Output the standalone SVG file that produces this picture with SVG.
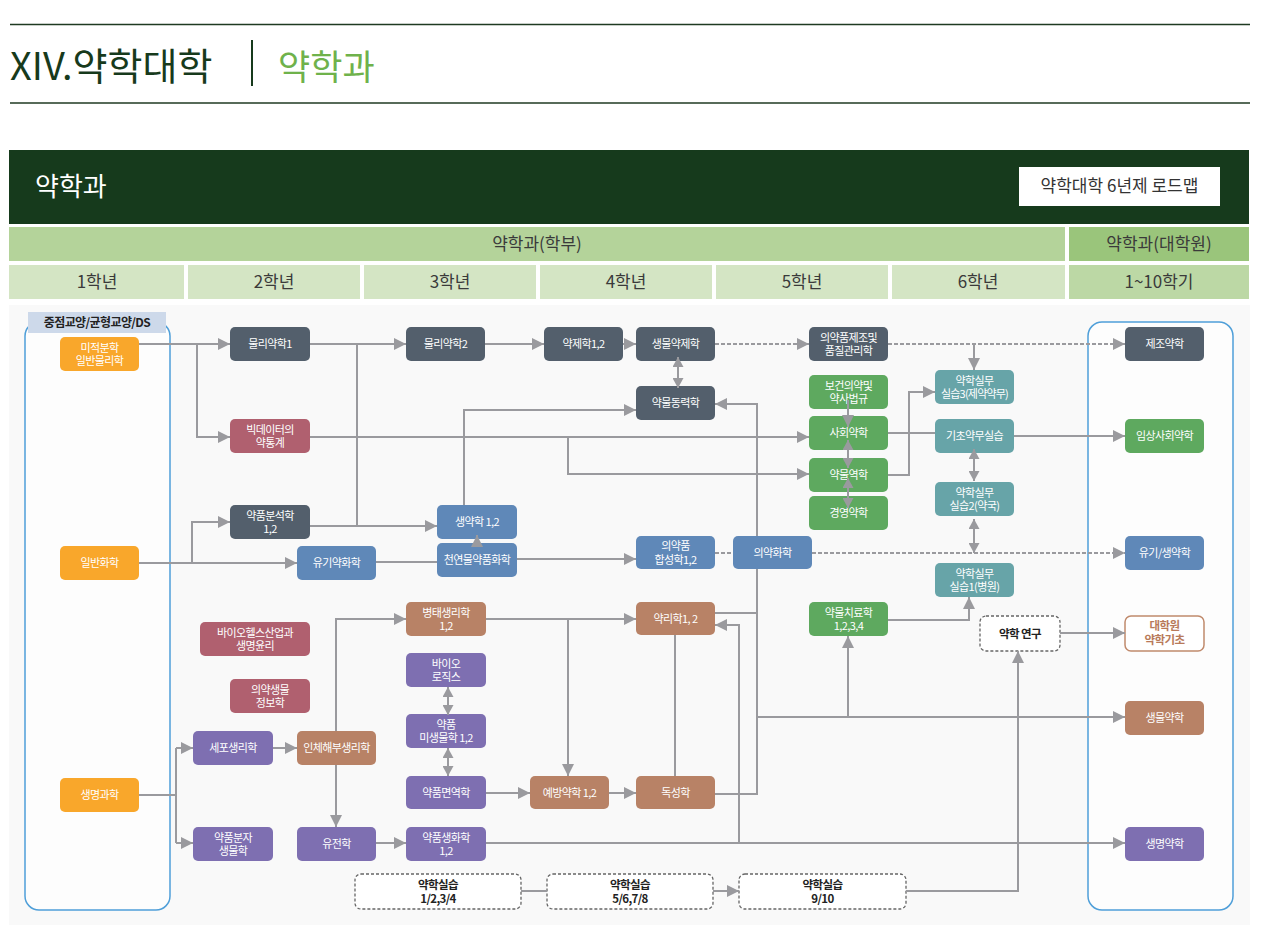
<svg xmlns="http://www.w3.org/2000/svg" width="1272" height="948" viewBox="0 0 1272 948">
<defs>
<style>
text{font-family:"Noto Sans CJK KR","Noto Sans",sans-serif;}
.n rect{rx:5;ry:5;}
.t{fill:#fff;font-size:11px;letter-spacing:-0.6px;text-anchor:middle;}
.slate{fill:#535f6c}.orange{fill:#f9a72b}.rose{fill:#b0606f}.blue{fill:#5f88b8}
.green{fill:#5ea95f}.teal{fill:#67a4a8}.brown{fill:#b88266}.purple{fill:#7e6fb1}
.dbox{fill:#fff;stroke:#666;stroke-width:1.3;stroke-dasharray:3 2;}
.dt{fill:#222;font-size:11.5px;font-weight:bold;letter-spacing:-0.6px;text-anchor:middle;}
.c path{fill:none;stroke:#9a9a9e;stroke-width:2;}
.a{marker-end:url(#ah);}
.d{marker-start:url(#ad);marker-end:url(#ad);}
.dash{stroke-dasharray:4 2;}
.hd{fill:#3a3a3a;font-size:17px;text-anchor:middle;}
</style>
<marker id="ah" markerUnits="userSpaceOnUse" markerWidth="12" markerHeight="12" refX="12" refY="6" orient="auto" viewBox="0 0 12 12"><path d="M0,0L12,6L0,12z" fill="#9a9a9e"/></marker>
<marker id="ad" markerUnits="userSpaceOnUse" markerWidth="10" markerHeight="11" refX="10" refY="5.5" orient="auto-start-reverse" viewBox="0 0 10 11"><path d="M0,0L10,5.5L0,11z" fill="#9a9a9e"/></marker>
</defs>
<rect width="1272" height="948" fill="#fff"/>
<g id="header">
<line x1="10" y1="24.5" x2="1250" y2="24.5" stroke="#1f3a22" stroke-width="1.5"/>
<text x="10" y="80" font-size="38" fill="#173a1c">XIV.약학대학</text>
<line x1="252" y1="40" x2="252" y2="86" stroke="#173a1c" stroke-width="2"/>
<text x="278" y="80" font-size="35" fill="#6fb24b">약학과</text>
<line x1="10" y1="103" x2="1250" y2="103" stroke="#1f3a22" stroke-width="1.5"/>
<rect x="9" y="150" width="1240" height="74" fill="#163a1c"/>
<text x="35" y="196" font-size="26" fill="#fff">약학과</text>
<rect x="1019" y="167" width="201" height="39" fill="#fff"/>
<text x="1119.5" y="192" font-size="17" fill="#333" text-anchor="middle">약학대학 6년제 로드맵</text>
<rect x="9" y="227" width="1056" height="34" fill="#b4d39a"/>
<rect x="1069" y="227" width="180" height="34" fill="#9ac57b"/>
<text class="hd" x="537" y="250">약학과(학부)</text>
<text class="hd" x="1159" y="250">약학과(대학원)</text>
<rect x="9" y="265" width="175" height="34" fill="#d4e5c4"/>
<rect x="188" y="265" width="172" height="34" fill="#d4e5c4"/>
<rect x="364" y="265" width="172" height="34" fill="#d4e5c4"/>
<rect x="540" y="265" width="172" height="34" fill="#d4e5c4"/>
<rect x="716" y="265" width="172" height="34" fill="#d4e5c4"/>
<rect x="892" y="265" width="173" height="34" fill="#d4e5c4"/>
<rect x="1069" y="265" width="180" height="34" fill="#bcd8a5"/>
<text class="hd" x="97" y="288">1학년</text>
<text class="hd" x="274" y="288">2학년</text>
<text class="hd" x="450" y="288">3학년</text>
<text class="hd" x="626" y="288">4학년</text>
<text class="hd" x="802" y="288">5학년</text>
<text class="hd" x="978" y="288">6학년</text>
<text class="hd" x="1159" y="288">1~10학기</text>
</g>
<g id="area">
<rect x="9" y="305" width="1241" height="620" fill="#f9f9f9"/>
<rect x="25" y="322" width="145" height="588" rx="14" fill="#fdfdfd" stroke="#4f9fd9" stroke-width="1.5"/>
<rect x="1088" y="322" width="145" height="588" rx="14" fill="#fdfdfd" stroke="#4f9fd9" stroke-width="1.5"/>
<rect x="28" y="312" width="138" height="21" fill="#cdd9ea"/>
<text x="97" y="327" font-size="12" font-weight="bold" fill="#222" text-anchor="middle" letter-spacing="-0.6">중점교양/균형교양/DS</text>
</g>
<g id="nodes">
<g id="n-calc" class="n"><rect class="orange" x="60" y="337" width="79" height="34"/><text class="t" x="99.5" y="351.5">미적분학<tspan x="99.5" dy="13.5">일반물리학</tspan></text></g>
<g id="n-genchem" class="n"><rect class="orange" x="60" y="546" width="79" height="34"/><text class="t" x="99.5" y="567">일반화학</text></g>
<g id="n-life" class="n"><rect class="orange" x="60" y="778" width="79" height="34"/><text class="t" x="99.5" y="799">생명과학</text></g>
<g id="n-phys1" class="n"><rect class="slate" x="230" y="327" width="80" height="34"/><text class="t" x="270" y="348">물리약학1</text></g>
<g id="n-bigdata" class="n"><rect class="rose" x="230" y="419" width="80" height="34"/><text class="t" x="270" y="433.5">빅데이터의<tspan x="270" dy="13.5">약통계</tspan></text></g>
<g id="n-anal" class="n"><rect class="slate" x="230" y="505" width="80" height="34"/><text class="t" x="270" y="519.5">약품분석학<tspan x="270" dy="13.5">1,2</tspan></text></g>
<g id="n-orgchem" class="n"><rect class="blue" x="297" y="546" width="79" height="34"/><text class="t" x="336.5" y="567">유기약화학</text></g>
<g id="n-bioethics" class="n"><rect class="rose" x="200" y="622" width="110" height="34"/><text class="t" x="255" y="636.5">바이오헬스산업과<tspan x="255" dy="13.5">생명윤리</tspan></text></g>
<g id="n-bioinfo" class="n"><rect class="rose" x="230" y="679" width="80" height="34"/><text class="t" x="270" y="693.5">의약생물<tspan x="270" dy="13.5">정보학</tspan></text></g>
<g id="n-cellphys" class="n"><rect class="purple" x="193" y="731" width="80" height="34"/><text class="t" x="233" y="752">세포생리학</text></g>
<g id="n-molbio" class="n"><rect class="purple" x="193" y="827" width="80" height="34"/><text class="t" x="233" y="841.5">약품분자<tspan x="233" dy="13.5">생물학</tspan></text></g>
<g id="n-anatomy" class="n"><rect class="brown" x="297" y="731" width="79" height="34"/><text class="t" x="336.5" y="752">인체해부생리학</text></g>
<g id="n-genetics" class="n"><rect class="purple" x="297" y="827" width="79" height="34"/><text class="t" x="336.5" y="848">유전학</text></g>
<g id="n-phys2" class="n"><rect class="slate" x="406" y="327" width="79" height="34"/><text class="t" x="445.5" y="348">물리약학2</text></g>
<g id="n-pharmacog" class="n"><rect class="blue" x="437" y="505" width="80" height="34"/><text class="t" x="477" y="526">생약학 1,2</text></g>
<g id="n-natprod" class="n"><rect class="blue" x="437" y="543" width="80" height="34"/><text class="t" x="477" y="564">천연물약품화학</text></g>
<g id="n-pathophys" class="n"><rect class="brown" x="406" y="602" width="80" height="34"/><text class="t" x="446" y="616.5">병태생리학<tspan x="446" dy="13.5">1,2</tspan></text></g>
<g id="n-biologics" class="n"><rect class="purple" x="406" y="653" width="80" height="34"/><text class="t" x="446" y="667.5">바이오<tspan x="446" dy="13.5">로직스</tspan></text></g>
<g id="n-micro" class="n"><rect class="purple" x="406" y="714" width="80" height="34"/><text class="t" x="446" y="728.5">약품<tspan x="446" dy="13.5">미생물학 1,2</tspan></text></g>
<g id="n-immuno" class="n"><rect class="purple" x="406" y="776" width="80" height="33"/><text class="t" x="446" y="797">약품면역학</text></g>
<g id="n-biochem" class="n"><rect class="purple" x="406" y="827" width="80" height="34"/><text class="t" x="446" y="841.5">약품생화학<tspan x="446" dy="13.5">1,2</tspan></text></g>
<g id="n-pharmaceutics" class="n"><rect class="slate" x="544" y="327" width="79" height="34"/><text class="t" x="583.5" y="348">약제학1,2</text></g>
<g id="n-prevent" class="n"><rect class="brown" x="530" y="776" width="79" height="33"/><text class="t" x="569.5" y="797">예방약학 1,2</text></g>
<g id="n-biopharm" class="n"><rect class="slate" x="636" y="327" width="79" height="34"/><text class="t" x="675.5" y="348">생물약제학</text></g>
<g id="n-pk" class="n"><rect class="slate" x="636" y="386" width="79" height="34"/><text class="t" x="675.5" y="407">약물동력학</text></g>
<g id="n-synth" class="n"><rect class="blue" x="636" y="536" width="79" height="33"/><text class="t" x="675.5" y="550">의약품<tspan x="675.5" dy="13.5">합성학1,2</tspan></text></g>
<g id="n-pharmacol" class="n"><rect class="brown" x="636" y="602" width="79" height="33"/><text class="t" x="675.5" y="622.5">약리학1, 2</text></g>
<g id="n-tox" class="n"><rect class="brown" x="636" y="776" width="79" height="33"/><text class="t" x="675.5" y="797">독성학</text></g>
<g id="n-medchem" class="n"><rect class="blue" x="733" y="536" width="79" height="33"/><text class="t" x="772.5" y="556.5">의약화학</text></g>
<g id="n-gmp" class="n"><rect class="slate" x="809" y="327" width="79" height="34"/><text class="t" x="848.5" y="341.5">의약품제조및<tspan x="848.5" dy="13.5">품질관리학</tspan></text></g>
<g id="n-law" class="n"><rect class="green" x="809" y="375" width="79" height="34"/><text class="t" x="848.5" y="389.5">보건의약및<tspan x="848.5" dy="13.5">약사법규</tspan></text></g>
<g id="n-social" class="n"><rect class="green" x="809" y="416" width="79" height="34"/><text class="t" x="848.5" y="437">사회약학</text></g>
<g id="n-epi" class="n"><rect class="green" x="809" y="458" width="79" height="34"/><text class="t" x="848.5" y="479">약물역학</text></g>
<g id="n-mgmt" class="n"><rect class="green" x="809" y="496" width="79" height="34"/><text class="t" x="848.5" y="517">경영약학</text></g>
<g id="n-therapy" class="n"><rect class="green" x="809" y="602" width="79" height="34"/><text class="t" x="848.5" y="616.5">약물치료학<tspan x="848.5" dy="13.5">1,2,3,4</tspan></text></g>
<g id="n-prac3" class="n"><rect class="teal" x="935" y="370" width="79" height="34"/><text class="t" x="974.5" y="384.5">약학실무<tspan x="974.5" dy="13.5" style="letter-spacing:-0.8px">실습3(제약약무)</tspan></text></g>
<g id="n-basic" class="n"><rect class="teal" x="935" y="419" width="79" height="34"/><text class="t" x="974.5" y="440">기초약무실습</text></g>
<g id="n-prac2" class="n"><rect class="teal" x="935" y="482" width="79" height="34"/><text class="t" x="974.5" y="496.5">약학실무<tspan x="974.5" dy="13.5">실습2(약국)</tspan></text></g>
<g id="n-prac1" class="n"><rect class="teal" x="935" y="563" width="79" height="34"/><text class="t" x="974.5" y="577.5">약학실무<tspan x="974.5" dy="13.5">실습1(병원)</tspan></text></g>
<g id="n-research"><rect class="dbox" x="980" y="616" width="80" height="35" rx="6"/><text class="dt" x="1020" y="638">약학 연구</text></g>
<g id="n-lab1"><rect class="dbox" x="355" y="874" width="166" height="35" rx="6"/><text class="dt" x="438" y="888.5">약학실습<tspan x="438" dy="14">1/2,3/4</tspan></text></g>
<g id="n-lab2"><rect class="dbox" x="547" y="874" width="166" height="35" rx="6"/><text class="dt" x="630" y="888.5">약학실습<tspan x="630" dy="14">5/6,7/8</tspan></text></g>
<g id="n-lab3"><rect class="dbox" x="739" y="874" width="167" height="35" rx="6"/><text class="dt" x="822.5" y="888.5">약학실습<tspan x="822.5" dy="14">9/10</tspan></text></g>
<g id="n-mfg" class="n"><rect class="slate" x="1125" y="327" width="79" height="34"/><text class="t" x="1164.5" y="348">제조약학</text></g>
<g id="n-clinsoc" class="n"><rect class="green" x="1125" y="419" width="79" height="34"/><text class="t" x="1164.5" y="440">임상사회약학</text></g>
<g id="n-orgpharm" class="n"><rect class="blue" x="1125" y="536" width="79" height="34"/><text class="t" x="1164.5" y="557">유기/생약학</text></g>
<g id="n-gradbase"><rect x="1125" y="616" width="79" height="35" rx="6" fill="#fff" stroke="#c08a6c" stroke-width="1.5"/><text x="1164.5" y="630" font-size="11.5" font-weight="bold" fill="#b87a5a" text-anchor="middle" letter-spacing="-0.6">대학원<tspan x="1164.5" dy="14">약학기초</tspan></text></g>
<g id="n-biopharmsci" class="n"><rect class="brown" x="1125" y="701" width="79" height="34"/><text class="t" x="1164.5" y="722">생물약학</text></g>
<g id="n-lifepharm" class="n"><rect class="purple" x="1125" y="827" width="79" height="34"/><text class="t" x="1164.5" y="848">생명약학</text></g>
</g>
<g id="connectors" class="c">
<path class="a" d="M139,344H230"/>
<path class="a" d="M197,344V437H230"/>
<path class="a" d="M310,344H406"/>
<path d="M357,344V526"/>
<path class="a" d="M310,526H437"/>
<path class="a" d="M485,344H544"/>
<path class="a" d="M623,344H636"/>
<path class="d" d="M678,357V388"/>
<path class="a dash" d="M715,344H809"/>
<path class="a dash" d="M888,344H1125"/>
<path class="a" d="M974,345V370"/>
<path class="a" d="M464,505V410H636"/>
<path class="a" d="M310,437H809"/>
<path class="a" d="M568,437V474H809"/>
<path class="a" d="M848,400V427"/>
<path class="d" d="M848,440V468"/>
<path class="d" d="M848,478V508"/>
<path d="M888,433H935"/>
<path class="a" d="M888,475H909V392H935"/>
<path class="a" d="M1014,436H1125"/>
<path class="d" d="M974,449V481"/>
<path class="d" d="M974,519V553"/>
<path class="a" d="M139,563H297"/>
<path class="a" d="M192,563V522H230"/>
<path d="M376,562H437"/>
<path class="a" d="M477,546V535"/>
<path class="a" d="M517,559H636"/>
<path class="dash" d="M715,553H733"/>
<path class="a dash" d="M812,553H1125"/>
<path class="a" d="M486,619H636"/>
<path class="a" d="M568,619V776"/>
<path class="a" d="M336,731V619H406"/>
<path class="a" d="M336,765V827"/>
<path class="a" d="M273,748H297"/>
<path d="M139,795H176M176,748V843"/>
<path class="a" d="M176,748H193"/>
<path class="a" d="M176,843H193"/>
<path class="a" d="M376,843H406"/>
<path class="d" d="M448,687V715"/>
<path class="d" d="M448,748V776"/>
<path class="a" d="M486,793H530"/>
<path class="a" d="M609,793H636"/>
<path class="a" d="M486,843H1125"/>
<path class="a" d="M739,843V625H715"/>
<path d="M675,635V776"/>
<path d="M715,613H757"/>
<path d="M715,794H757V569"/>
<path class="a" d="M757,536V404H715"/>
<path class="a" d="M757,717H1125"/>
<path class="a" d="M848,717V636"/>
<path class="a" d="M888,620H969V597"/>
<path class="a" d="M1060,633H1125"/>
<path class="a" d="M906,891H1018V651"/>
<path d="M521,891H547"/>
<path class="a" d="M713,891H739"/>
</g>
</svg>
